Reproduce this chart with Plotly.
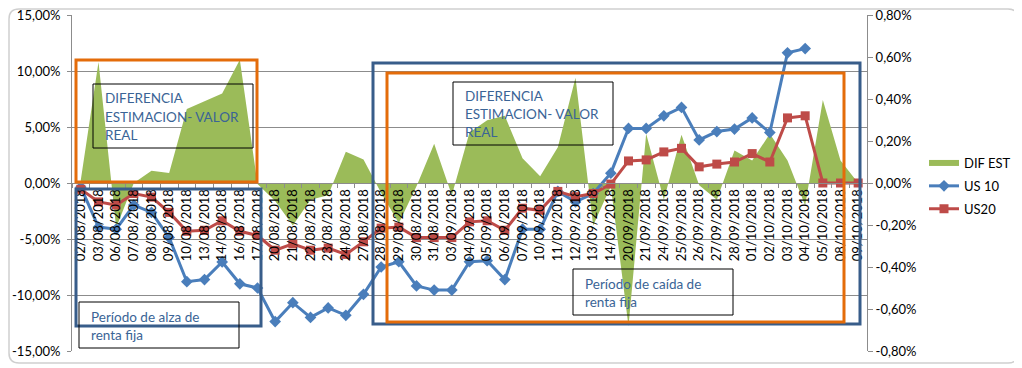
import plotly.graph_objects as go

dates = ["02/08/2018", "03/08/2018", "06/08/2018", "07/08/2018", "08/08/2018", "09/08/2018",
         "10/08/2018", "13/08/2018", "14/08/2018", "16/08/2018", "17/08/2018", "20/08/2018",
         "21/08/2018", "22/08/2018", "23/08/2018", "24/08/2018", "27/08/2018", "28/08/2018",
         "29/08/2018", "30/08/2018", "31/08/2018", "03/09/2018", "04/09/2018", "05/09/2018",
         "06/09/2018", "07/09/2018", "10/09/2018", "11/09/2018", "12/09/2018", "13/09/2018",
         "14/09/2018", "20/09/2018", "21/09/2018", "24/09/2018", "25/09/2018", "26/09/2018",
         "27/09/2018", "28/09/2018", "01/10/2018", "02/10/2018", "03/10/2018", "04/10/2018",
         "05/10/2018", "08/10/2018", "09/10/2018"]

dif_est = [0.003, 0.108, -0.040, 0.000, 0.011, 0.009,
           0.066, 0.073, 0.080, 0.110, -0.001, -0.016,
           -0.038, -0.015, -0.011, 0.028, 0.021, -0.009,
           -0.036, -0.003, 0.035, -0.011, 0.045, 0.056,
           0.060, 0.022, 0.006, 0.032, 0.094, -0.038,
           -0.003, -0.128, 0.044, -0.015, 0.043, -0.002,
           -0.015, 0.029, 0.020, 0.044, 0.020, -0.020,
           0.074, 0.020, 0.000]

us10 = [-0.0002, -0.0021, -0.0022, -0.00105, -0.0014, -0.0026,
        -0.0047, -0.0046, -0.00376, -0.0048, -0.0050, -0.0066,
        -0.0057, -0.0064, -0.00595, -0.0063, -0.0053, -0.0040,
        -0.00375, -0.0049, -0.0051, -0.0051, -0.00375, -0.0037,
        -0.0046, -0.0022, -0.0022, -0.0004, -0.0009, -0.0005,
        0.00047, 0.0026, 0.0026, 0.0032, 0.0036, 0.00205,
        0.00245, 0.00257, 0.0031, 0.0024, 0.0062, 0.0064,
        None, None, None]

us20 = [-0.0003, -0.0009, -0.00105, -0.0005, -0.00067, -0.0014,
        -0.0023, -0.00225, -0.0018, -0.0023, -0.0025, -0.0032,
        -0.0029, -0.0032, -0.0031, -0.0034, -0.0028, -0.00215,
        -0.0021, -0.0026, -0.0026, -0.0026, -0.00185, -0.0018,
        -0.00225, -0.0012, -0.0013, -0.0004, -0.00065, -0.0005,
        -0.00005, 0.00105, 0.0011, 0.00148, 0.00165, 0.00077,
        0.0009, 0.0010, 0.0014, 0.0010, 0.0031, 0.0032,
        0.0, 0.0, 0.0]

left_tickvals = [0.15, 0.10, 0.05, 0.0, -0.05, -0.10, -0.15]
left_ticktext = ["15,00%", "10,00%", "5,00%", "0,00%", "-5,00%", "-10,00%", "-15,00%"]
right_tickvals = [0.008, 0.006, 0.004, 0.002, 0.0, -0.002, -0.004, -0.006, -0.008]
right_ticktext = ["0,80%", "0,60%", "0,40%", "0,20%", "0,00%", "-0,20%", "-0,40%", "-0,60%", "-0,80%"]

box_texts = [
    ["DIFERENCIA", "ESTIMACION- VALOR", "REAL"],
    ["Período de alza de", "renta fija"],
    ["DIFERENCIA", "ESTIMACION- VALOR", "REAL"],
    ["Período de caída de", "renta fija"],
]

# ---- layout geometry (page pixels; the page body adds an 8px offset) ----
W, H = 1022, 368
OFF = 8
PL, PR, PT, PB = 72, 867, 15, 351
FONT = "Lato, 'Liberation Sans', Arial, sans-serif"


def px(x):
    return (x - PL) / (PR - PL)


def py(y):
    return (PB - y) / (PB - PT)


GREEN = "#9BBB59"
BLUE = "#4A7EBB"
RED = "#BE4B48"
ORANGE = "#E46C0A"
NAVY = "#385D8A"
TEXTBLUE = "#3A6496"
GRID = "#8C8C8C"

fig = go.Figure()
fig.add_trace(go.Scatter(
    x=dates, y=dif_est, name="DIF EST", mode="none", fill="tozeroy",
    fillcolor=GREEN, yaxis="y", legendgroup="a",
))
fig.add_trace(go.Scatter(
    x=dates, y=us10, name="US 10", mode="lines+markers", yaxis="y2", legendgroup="b",
    line=dict(color=BLUE, width=3), marker=dict(symbol="diamond", size=9, color=BLUE),
    connectgaps=False,
))
fig.add_trace(go.Scatter(
    x=dates, y=us20, name="US20", mode="lines+markers", yaxis="y2", legendgroup="c",
    line=dict(color=RED, width=3), marker=dict(symbol="square", size=9, color=RED),
))

shapes = []
# outer chart frame
shapes.append(dict(type="path", xref="paper", yref="paper", layer="below",
                   path=("M {a},{b} L {c},{b} Q {c2},{b} {c2},{b2} L {c2},{d2} Q {c2},{d} {c},{d} "
                         "L {a},{d} Q {a2},{d} {a2},{d2} L {a2},{b2} Q {a2},{b} {a},{b} Z").format(
                       a=px(19), c=px(1008), a2=px(9), c2=px(1018),
                       b=py(9), d=py(363), b2=py(19), d2=py(353)),
                   line=dict(color="#CFCFCF", width=1.5)))


def rect(x0, y0, x1, y1, color, width):
    shapes.append(dict(type="rect", xref="paper", yref="paper", layer="above",
                       x0=px(x0), x1=px(x1), y0=py(y0), y1=py(y1),
                       line=dict(color=color, width=width), fillcolor="rgba(0,0,0,0)"))


rect(76, 60, 257, 182, ORANGE, 3)
rect(76, 189, 261, 326, NAVY, 3)
rect(373, 63, 860, 324, NAVY, 3)
rect(387, 73, 844, 322, ORANGE, 3)
rect(93, 84, 253, 148, "black", 1)
rect(79, 302, 239, 348, "black", 1)
rect(453, 82, 613, 145, "black", 1)
rect(573, 269, 733, 315, "black", 1)

annotations = []
box_pos = [(103, [98, 117, 135]), (89, [317, 335]), (463, [96, 114, 132]), (583, [284, 302])]
for lines, (x0, ys) in zip(box_texts, box_pos):
    for t, yy in zip(lines, ys):
        annotations.append(dict(text=t, xref="paper", yref="paper", x=px(x0), y=py(yy),
                                xanchor="left", yanchor="middle", showarrow=False,
                                font=dict(family=FONT, size=13.5, color=TEXTBLUE)))

fig.update_layout(
    width=W - OFF, height=H - OFF,
    margin=dict(l=PL - OFF, r=W - PR, t=PT - OFF, b=H - PB, autoexpand=False),
    paper_bgcolor="white", plot_bgcolor="white",
    font=dict(family=FONT, size=13, color="black"),
    showlegend=True,
    legend=dict(x=px(924), y=py(148), xanchor="left", yanchor="top",
                font=dict(family=FONT, size=13, color="black"),
                bgcolor="rgba(0,0,0,0)", itemwidth=30, tracegroupgap=3),
    xaxis=dict(type="category", anchor="free", position=0.5, automargin=False,
               tickangle=-90, tickson="boundaries", ticks="outside", ticklen=4,
               tickcolor=GRID, showline=True, linecolor=GRID, linewidth=1,
               showgrid=False, tickfont=dict(family=FONT, size=13, color="black"),
               range=[-0.5, len(dates) - 0.5]),
    yaxis=dict(range=[-0.15, 0.15], tickvals=left_tickvals, ticktext=left_ticktext,
               automargin=False, ticklabeloverflow="allow",
               showgrid=True, gridcolor=GRID, gridwidth=1, zeroline=False,
               showline=True, linecolor=GRID, ticks="outside", ticklen=4, tickcolor=GRID,
               tickfont=dict(family=FONT, size=13, color="black"), ticklabelstandoff=4),
    yaxis2=dict(range=[-0.008, 0.008], tickvals=right_tickvals, ticktext=right_ticktext,
                automargin=False, ticklabeloverflow="allow",
                overlaying="y", side="right", showgrid=False, zeroline=False,
                showline=True, linecolor=GRID, ticks="outside", ticklen=5, tickcolor=GRID,
                tickfont=dict(family=FONT, size=13, color="black")),
    shapes=shapes,
    annotations=annotations,
)

fig.write_html("out.html")
